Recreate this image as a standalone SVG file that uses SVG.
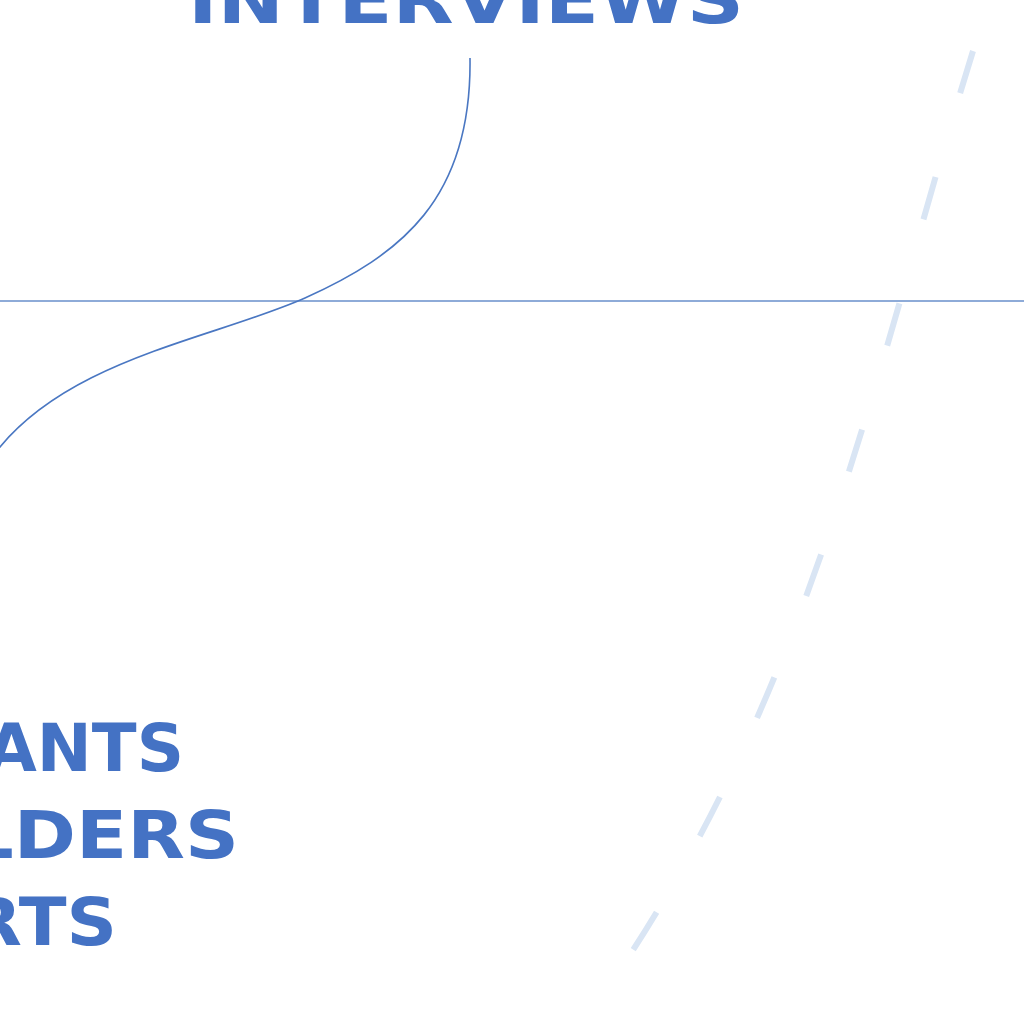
<svg xmlns="http://www.w3.org/2000/svg" width="1024" height="1024" viewBox="0 0 1024 1024">
  <style>
    .lbl { font-family: "DejaVu Sans", "Liberation Sans", sans-serif; font-weight: bold; fill: #4472c4; font-size: 66px; }
    .conn { fill: none; stroke: #4a77c2; stroke-width: 1.6; }
    .rule { fill: none; stroke: #8eabd8; stroke-width: 2; }
    .dash { fill: none; stroke: #d9e5f4; stroke-width: 6; stroke-dasharray: 44 87.5; stroke-linecap: butt; }
  </style>
  <rect width="1024" height="1024" fill="#ffffff"/>
  <g id="decor">
    <line class="rule" x1="0" y1="301" x2="1024" y2="301"/>
    <path class="dash" d="M973,51 C880,351 820,660 633,950"/>
  </g>
  <g id="connectors">
    <path class="conn" d="M470,58 C472,200 400,255 305,298 C210,340 60,360 -10,460"/>
  </g>
  <g id="node-interviews">
    <text class="lbl" x="188" y="23" textLength="556" lengthAdjust="spacingAndGlyphs">INTERVIEWS</text>
  </g>
  <g id="node-participants">
    <text class="lbl" x="-14" y="771" textLength="198" lengthAdjust="spacingAndGlyphs">ANTS</text>
  </g>
  <g id="node-stakeholders">
    <text class="lbl" x="-34" y="858" textLength="273" lengthAdjust="spacingAndGlyphs">LDERS</text>
  </g>
  <g id="node-experts">
    <text class="lbl" x="-32" y="945" textLength="149" lengthAdjust="spacingAndGlyphs">RTS</text>
  </g>
</svg>
